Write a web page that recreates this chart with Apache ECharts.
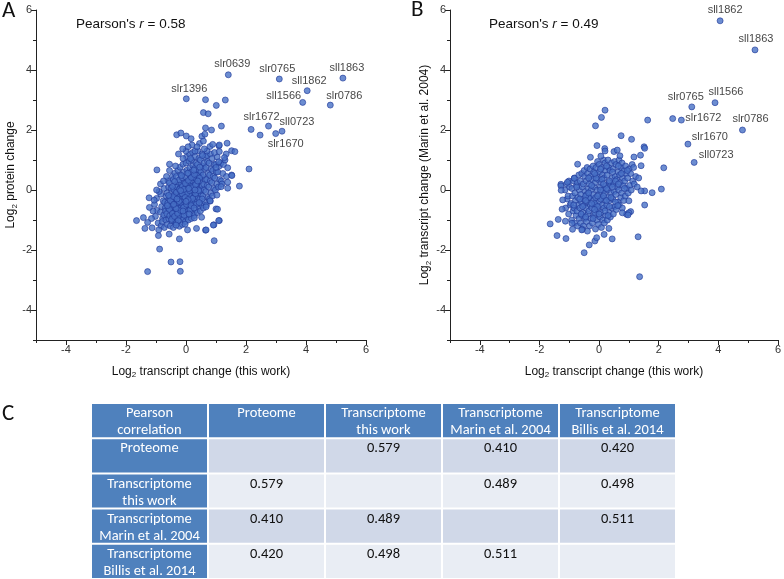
<!DOCTYPE html>
<html>
<head>
<meta charset="utf-8">
<script src="https://cdn.jsdelivr.net/npm/echarts@6/dist/echarts.min.js"></script>
<style>
html,body{margin:0;padding:0;background:#fff;}
#chart{width:784px;height:579px;}
</style>
</head>
<body>
<div id="chart"></div>
<script>
// ---------------- DATA ----------------
// Panel A: x = Log2 transcript change (this work), y = Log2 protein change
var pointsA = [
  // dense core
  [-1.02,-0.88],[-0.97,-0.68],[-1.05,-0.48],[-0.93,-1.10],[-0.98,-0.28],
  [-0.83,-1.20],[-0.78,-0.95],[-0.85,-0.74],[-0.81,-0.55],[-0.76,-0.36],[-0.84,-0.14],[-0.79,-1.05],
  [-0.72,-1.25],[-0.67,-1.00],[-0.74,-0.83],[-0.69,-0.60],[-0.71,-0.41],[-0.66,-0.20],[-0.73,0.05],[-0.68,-0.70],
  [-0.62,-1.15],[-0.57,-0.96],[-0.64,-0.79],[-0.59,-0.61],[-0.61,-0.44],[-0.56,-0.29],[-0.63,-0.10],[-0.58,0.10],[-0.60,0.31],
  [-0.52,-1.20],[-0.47,-1.02],[-0.54,-0.86],[-0.49,-0.69],[-0.51,-0.54],[-0.46,-0.41],[-0.53,-0.24],[-0.48,-0.09],[-0.50,0.06],[-0.55,0.24],[-0.45,0.46],
  [-0.42,-1.25],[-0.37,-1.06],[-0.44,-0.90],[-0.39,-0.74],[-0.41,-0.61],[-0.36,-0.45],[-0.43,-0.31],[-0.38,-0.14],[-0.40,0.01],[-0.35,0.16],[-0.42,0.35],[-0.37,0.56],
  [-0.32,-1.10],[-0.27,-0.94],[-0.34,-0.81],[-0.29,-0.65],[-0.31,-0.49],[-0.26,-0.36],[-0.33,-0.20],[-0.28,-0.04],[-0.30,0.10],[-0.25,0.26],[-0.32,0.45],[-0.27,0.66],
  [-0.22,-1.21],[-0.17,-1.00],[-0.24,-0.86],[-0.19,-0.69],[-0.21,-0.56],[-0.16,-0.40],[-0.23,-0.26],[-0.18,-0.09],[-0.20,0.06],[-0.15,0.21],[-0.22,0.34],[-0.17,0.51],[-0.20,0.76],
  [-0.12,-1.15],[-0.07,-0.95],[-0.14,-0.79],[-0.09,-0.66],[-0.11,-0.49],[-0.06,-0.35],[-0.13,-0.21],[-0.08,-0.04],[-0.10,0.10],[-0.05,0.25],[-0.12,0.41],[-0.07,0.60],[-0.10,0.86],
  [-0.02,-1.05],[0.03,-0.90],[-0.04,-0.74],[0.01,-0.61],[-0.01,-0.45],[0.04,-0.29],[-0.03,-0.16],[0.02,0.01],[0.00,0.15],[0.05,0.30],[-0.02,0.44],[0.03,0.66],[0.00,0.90],[0.02,1.10],
  [0.08,-1.00],[0.13,-0.81],[0.06,-0.64],[0.11,-0.51],[0.09,-0.34],[0.14,-0.20],[0.07,-0.06],[0.12,0.10],[0.10,0.26],[0.15,0.40],[0.08,0.55],[0.13,0.74],[0.10,0.96],[0.12,1.20],
  [0.18,-0.95],[0.23,-0.76],[0.16,-0.60],[0.21,-0.44],[0.19,-0.30],[0.24,-0.15],[0.17,0.01],[0.22,0.15],[0.20,0.31],[0.25,0.44],[0.18,0.60],[0.23,0.81],[0.20,1.00],[0.22,1.25],
  [0.28,-0.85],[0.33,-0.66],[0.26,-0.50],[0.31,-0.34],[0.29,-0.20],[0.34,-0.06],[0.27,0.10],[0.32,0.26],[0.30,0.40],[0.35,0.55],[0.28,0.71],[0.33,0.90],[0.30,1.11],
  [0.38,-0.75],[0.43,-0.55],[0.36,-0.41],[0.41,-0.25],[0.39,-0.10],[0.44,0.05],[0.37,0.21],[0.42,0.35],[0.40,0.50],[0.45,0.66],[0.38,0.85],[0.43,1.05],[0.40,1.30],
  [0.48,-0.70],[0.53,-0.50],[0.46,-0.31],[0.51,-0.15],[0.49,0.00],[0.54,0.15],[0.47,0.30],[0.52,0.45],[0.50,0.61],[0.55,0.80],[0.48,1.00],[0.53,1.20],
  [0.58,-0.60],[0.63,-0.40],[0.56,-0.20],[0.61,0.00],[0.59,0.20],[0.64,0.35],[0.57,0.50],[0.62,0.71],[0.60,0.90],[0.65,1.10],
  [0.68,-0.50],[0.73,-0.25],[0.66,-0.05],[0.71,0.15],[0.69,0.35],[0.74,0.55],[0.67,0.75],[0.72,0.95],[0.70,1.15],
  [0.78,-0.30],[0.83,-0.10],[0.76,0.10],[0.81,0.30],[0.79,0.50],[0.84,0.70],[0.77,0.90],[0.82,1.20],
  [0.88,-0.20],[0.93,0.05],[0.86,0.25],[0.91,0.45],[0.89,0.65],[0.94,0.85],[0.87,1.05],
  [0.98,0.00],[1.03,0.20],[0.96,0.40],[1.01,0.60],[0.99,0.85],[1.04,1.10],
  [1.08,0.10],[1.13,0.35],[1.06,0.60],[1.11,0.80],
  [1.18,0.30],[1.23,0.55],[1.16,0.90],
  // extra core fill
  [-0.15,-0.48],[0.05,-0.38],[-0.05,-0.55],[0.15,-0.25],[-0.25,-0.60],[0.25,0.05],[-0.35,-0.25],[0.35,0.20],
  [-0.10,-0.30],[0.10,-0.15],[-0.20,-0.20],[0.00,-0.05],[-0.30,-0.75],[0.20,-0.40],[-0.45,-0.55],[0.45,0.40],
  [-0.25,1.20],[0.00,1.30],[0.20,1.50],[0.30,1.30],[0.45,1.55],[0.70,1.30],[0.80,1.45],[0.95,1.25],
  [0.15,1.05],[-0.10,1.05],[0.55,1.15],[1.25,0.85],[1.00,0.75],[1.35,0.45],[1.20,0.20],[-0.85,0.20],
  [-0.90,-0.05],[-1.10,-0.70],[-1.15,-0.95],[-0.65,0.45],[-0.75,0.30],[-0.35,0.80],[-0.55,0.65],[1.30,1.00],
  [-0.55,-0.65],[-0.45,-0.78],[-0.35,-0.55],[-0.28,-0.42],[-0.18,-0.32],[-0.08,-0.22],[0.02,-0.12],[0.12,-0.02],[0.22,0.08],[0.32,0.18],
  [-0.52,-0.35],[-0.42,-0.22],[-0.32,-0.08],[-0.22,0.02],[-0.12,0.12],[-0.02,0.22],[0.08,0.32],[0.18,0.42],[0.28,0.52],
  [-0.48,-0.98],[-0.38,-0.88],[-0.28,-0.78],[-0.18,-0.68],[-0.08,-0.58],[0.02,-0.48],[0.12,-0.38],[0.22,-0.28],[0.32,-0.12],[0.42,-0.02],
  [-0.62,-0.52],[-0.58,-0.18],[-0.38,0.28],[-0.15,0.48],[0.06,0.56],[0.26,0.66],[0.46,0.76],
  [-0.26,-1.02],[-0.06,-0.84],[0.14,-0.66],[0.34,-0.48],[0.54,-0.30],[0.44,-0.42],
  [-0.13,-0.12],[-0.03,-0.25],[0.07,-0.32],[-0.23,-0.38],[-0.33,-0.62],[0.17,-0.52],[0.27,-0.60],[-0.41,-0.48],
  [-0.07,0.02],[0.09,0.05],[-0.18,-0.02],[0.00,-0.38],[-0.10,-0.70],[0.10,-0.80],[-0.30,-0.30],[0.30,0.00],[-0.45,0.12],[0.39,0.30],
  // outer points
  [0.65,3.01],[1.31,3.00],[1.01,2.82],[0.58,2.58],[0.74,2.54],[1.18,2.13],[0.65,2.07],[0.85,2.00],
  [-0.31,1.84],[-0.17,1.90],[0.01,1.80],[0.17,1.71],[0.53,1.79],[0.63,1.86],[0.89,1.52],[1.37,1.56],
  [1.10,1.47],[-0.11,1.37],[0.07,1.44],[0.58,1.63],[1.52,1.31],[1.63,1.28],[0.37,1.44],[0.61,1.37],
  [1.11,1.50],[1.34,1.20],[1.11,1.28],[-0.97,0.67],[-0.55,0.86],[2.10,0.70],[1.39,0.74],[1.52,0.50],
  [1.09,0.94],[1.28,1.08],[1.78,0.13],[1.39,0.06],[1.17,0.11],[1.39,0.26],[1.53,0.48],
  [-1.65,-1.02],[-1.42,-0.92],[-1.28,-1.08],[-1.37,-1.28],[-1.13,-1.26],[-0.91,-1.33],[-0.92,-1.52],
  [-0.88,-1.97],[-0.50,-2.40],[-0.20,-2.39],[-1.28,-2.72],[-0.19,-2.71],[-0.22,-1.63],[-0.56,-1.47],
  [0.05,-1.33],[0.35,-1.28],[0.65,-1.34],[0.94,-1.69],[0.93,-1.16],[1.11,-1.02],[1.00,-0.63],[0.81,-0.37],
  [1.03,-0.17],[0.52,-0.91],[-1.23,-0.26],[-1.22,-0.58],[-0.98,0.00],[-1.06,-0.34],[0.67,-0.56],[0.28,-0.93],
  [-0.03,-1.14],[-0.33,-1.17],[1.05,-0.64],[1.09,-1.02],[0.91,-1.17],[0.80,-0.36],[0.67,-1.33],
  [2.17,2.02],[2.47,1.83]
];
var labelNamesA = ["slr0639","slr0765","sll1863","sll1862","sll1566","slr0786","slr1396","slr1672","sll0723","slr1670"];
var labelXA     = [1.41, 3.11, 5.23, 4.04, 3.89, 4.81, 0.01, 2.75, 3.20, 2.99];
var labelYA     = [3.84, 3.70, 3.73, 3.31, 2.92, 2.83, 3.04, 2.13, 1.96, 1.88];

// Panel B: x = Log2 transcript change (this work), y = Log2 transcript change (Marin et al. 2004)
var pointsB = [
  [-1.12,-0.60],[-1.07,-0.30],[-1.14,0.00],[-1.09,0.20],
  [-1.02,-0.80],[-0.97,-0.50],[-1.04,-0.20],[-0.99,0.10],[-1.01,0.30],
  [-0.92,-1.00],[-0.87,-0.70],[-0.94,-0.45],[-0.89,-0.20],[-0.91,0.05],[-0.86,0.30],
  [-0.82,-1.10],[-0.77,-0.85],[-0.84,-0.60],[-0.79,-0.35],[-0.81,-0.10],[-0.76,0.15],[-0.83,0.40],
  [-0.72,-1.20],[-0.67,-0.95],[-0.74,-0.70],[-0.69,-0.50],[-0.71,-0.25],[-0.66,0.00],[-0.73,0.25],[-0.68,0.50],
  [-0.62,-1.10],[-0.57,-0.85],[-0.64,-0.60],[-0.59,-0.40],[-0.61,-0.15],[-0.56,0.10],[-0.63,0.30],[-0.58,0.55],
  [-0.52,-1.20],[-0.47,-0.95],[-0.54,-0.75],[-0.49,-0.50],[-0.51,-0.30],[-0.46,-0.05],[-0.53,0.20],[-0.48,0.45],[-0.50,0.65],
  [-0.42,-1.05],[-0.37,-0.80],[-0.44,-0.60],[-0.39,-0.40],[-0.41,-0.15],[-0.36,0.05],[-0.43,0.30],[-0.38,0.55],[-0.40,0.75],
  [-0.32,-1.20],[-0.27,-0.95],[-0.34,-0.70],[-0.29,-0.50],[-0.31,-0.25],[-0.26,0.00],[-0.33,0.20],[-0.28,0.45],[-0.30,0.70],
  [-0.22,-1.10],[-0.17,-0.85],[-0.24,-0.60],[-0.19,-0.35],[-0.21,-0.15],[-0.16,0.10],[-0.23,0.35],[-0.18,0.60],[-0.20,0.80],
  [-0.12,-1.30],[-0.07,-1.00],[-0.14,-0.75],[-0.09,-0.50],[-0.11,-0.25],[-0.06,0.00],[-0.13,0.25],[-0.08,0.50],[-0.10,0.75],[-0.05,0.95],
  [-0.02,-1.15],[0.03,-0.90],[-0.04,-0.65],[0.01,-0.40],[-0.01,-0.15],[0.04,0.10],[-0.03,0.35],[0.02,0.60],[0.00,0.85],
  [0.08,-1.25],[0.13,-1.00],[0.06,-0.75],[0.11,-0.50],[0.09,-0.25],[0.14,0.00],[0.07,0.25],[0.12,0.50],[0.10,0.75],[0.15,1.00],
  [0.18,-1.10],[0.23,-0.85],[0.16,-0.60],[0.21,-0.35],[0.19,-0.10],[0.24,0.15],[0.17,0.40],[0.22,0.65],[0.20,0.90],
  [0.28,-1.00],[0.33,-0.75],[0.26,-0.50],[0.31,-0.25],[0.29,0.00],[0.34,0.25],[0.27,0.50],[0.32,0.75],[0.30,1.00],
  [0.38,-0.90],[0.43,-0.60],[0.36,-0.35],[0.41,-0.10],[0.39,0.15],[0.44,0.40],[0.37,0.65],[0.42,0.90],
  [0.48,-0.80],[0.53,-0.55],[0.46,-0.30],[0.51,-0.05],[0.49,0.20],[0.54,0.45],[0.47,0.70],[0.52,0.95],
  [0.58,-0.65],[0.63,-0.40],[0.56,-0.15],[0.61,0.10],[0.59,0.35],[0.64,0.60],[0.57,0.85],
  [0.68,-0.50],[0.73,-0.25],[0.66,0.00],[0.71,0.25],[0.69,0.50],[0.74,0.75],[0.67,1.00],
  [0.78,-0.60],[0.83,-0.35],[0.76,-0.10],[0.81,0.15],[0.79,0.40],[0.84,0.65],[0.77,0.90],
  [0.88,-0.20],[0.93,0.05],[0.86,0.30],[0.91,0.55],[0.89,0.80],
  [0.98,-0.10],[1.03,0.15],[0.96,0.40],[1.01,0.70],
  [1.08,0.00],[1.13,0.30],[1.06,0.55],[1.11,0.85],
  [1.18,0.20],[1.23,0.45],[1.16,0.75],[1.28,0.10],[1.33,0.40],
  // extra core fill
  [-0.15,-0.45],[0.05,-0.30],[-0.05,-0.55],[0.15,-0.20],[0.25,0.05],[-0.35,-0.25],[0.35,0.30],[-0.25,0.15],
  [0.45,0.10],[-0.45,-0.20],[0.10,0.35],[-0.10,0.40],[0.55,0.30],[0.65,0.80],[-0.60,-0.80],[0.20,-0.70],
  [-0.55,-0.55],[-0.45,-0.35],[-0.35,-0.10],[-0.25,-0.45],[-0.15,-0.65],[-0.05,-0.20],[0.05,0.00],[0.15,0.20],[0.25,-0.35],[0.35,-0.55],
  [0.45,0.60],[0.55,-0.40],[-0.65,-0.30],[-0.75,0.10],[0.65,0.20],[0.75,0.55],[-0.35,0.40],[-0.15,0.55],[0.05,0.70],[0.25,0.80],
  [0.40,-0.25],[-0.20,-0.95],[0.00,-0.80],[0.30,-0.85],[-0.45,-0.90],[0.85,0.05],[0.95,0.65],[-0.85,-0.50],
  // outer points
  [1.63,2.33],[0.20,2.66],[0.08,2.42],[-0.12,2.14],[0.74,1.81],[1.09,1.69],[-0.07,1.48],[0.19,1.38],
  [1.51,1.44],[1.53,1.39],[-0.29,1.09],[2.47,2.38],[-0.72,0.86],[2.17,0.74],[1.41,0.81],[1.39,1.16],
  [1.17,1.10],[0.50,1.28],[0.61,1.33],[0.20,1.30],[0.06,1.13],[0.70,1.14],[-1.28,0.19],[-1.06,0.26],[-0.83,0.39],
  [2.09,0.03],[1.78,-0.09],[1.53,-0.03],[1.41,-0.03],[1.53,-0.50],[1.31,-1.56],[1.36,-2.89],
  [-1.64,-1.13],[-1.37,-0.98],[-1.41,-1.52],[-1.11,-1.62],[-1.13,-1.04],[-0.89,-1.31],[-0.50,-2.09],
  [-0.33,-1.83],[-0.14,-1.70],[-0.08,-1.59],[0.17,-1.48],[0.44,-1.63],[-0.39,-1.37],[-0.56,-1.31],
  [-1.24,-0.64],[-1.22,-0.33],[1.06,-0.72],[0.92,-0.81],[0.78,-0.76],[0.63,-0.52],[1.00,-0.36],[0.33,-1.28],
  [-1.28,0.14],[-1.27,-0.01],[-0.91,-1.11],[-0.58,-1.33],[1.00,-0.76],[0.97,-0.83]
];
var labelNamesB = ["sll1862","sll1863","slr0765","sll1566","slr1672","slr0786","slr1670","sll0723"];
var labelXB     = [4.06, 5.23, 3.11, 3.89, 2.76, 4.81, 2.98, 3.19];
var labelYB     = [5.64, 4.67, 2.77, 2.91, 2.33, 2.00, 1.53, 0.92];

var pearsonA = 0.58;
var pearsonB = 0.49;

var majorTicks = [-4, -2, 0, 2, 4, 6];
var minorTicks = [-5, -3, -1, 1, 3, 5];

// Panel C: correlation table
var tableHeader = ["Pearson\ncorrelation", "Proteome", "Transcriptome\nthis work", "Transcriptome\nMarin et al. 2004", "Transcriptome\nBillis et al. 2014"];
var tableRows   = ["Proteome", "Transcriptome\nthis work", "Transcriptome\nMarin et al. 2004", "Transcriptome\nBillis et al. 2014"];
var corrProteome   = [null, 0.579, 0.410, 0.420];
var corrThisWork   = [0.579, null, 0.489, 0.498];
var corrMarin      = [0.410, 0.489, null, 0.511];
var corrBillis     = [0.420, 0.498, 0.511, null];

// ---------------- STYLE / LAYOUT ----------------
var FONT = '"Liberation Sans", Arial, sans-serif';
var TFONT = 'Carlito, Lato, "Open Sans", sans-serif';
var AXIS_COLOR = '#222';
var DOT = { color: '#4770c6', borderColor: '#203898', borderWidth: 0.8 };

var labelOffsetA = {
  slr0639: [4, -11], slr0765: [-2, -10], sll1863: [4, -10], sll1862: [2, -10], sll1566: [-19, -6],
  slr0786: [14, -9], slr1396: [3, -10], slr1672: [-7, -9], sll0723: [15, -9], slr1670: [10, 10]
};
var labelOffsetB = {
  sll1862: [5, -11], sll1863: [1, -11], slr0765: [-6, -10], sll1566: [11, -11], slr1672: [22, -2],
  slr0786: [8, -11], slr1670: [22, -7], sll0723: [22, -7]
};

function labeledData(names, xs, ys, offsets) {
  return names.map(function (n, i) {
    return { name: n, value: [xs[i], ys[i]], label: { offset: offsets[n] } };
  });
}

var subRich = { s: { fontSize: 8, padding: [7, 0, 0, 0], fontFamily: FONT, color: '#111' } };

function valueAxis(gridIndex, name, nameGap, isY) {
  var main = {
    type: 'value', gridIndex: gridIndex, min: -5, max: 6,
    position: isY ? 'left' : 'bottom',
    name: name, nameLocation: 'middle', nameGap: nameGap,
    nameTextStyle: { fontFamily: FONT, fontSize: 12, color: '#111', rich: subRich },
    axisLine: { show: true, onZero: false, lineStyle: { color: AXIS_COLOR, width: 1 } },
    axisTick: { show: true, length: 5, customValues: majorTicks, lineStyle: { color: AXIS_COLOR } },
    axisLabel: { show: true, customValues: majorTicks, fontFamily: FONT, fontSize: 11, color: '#333', margin: 4 },
    splitLine: { show: false }
  };
  var minor = {
    type: 'value', gridIndex: gridIndex, min: -5, max: 6,
    position: isY ? 'left' : 'bottom',
    axisLine: { show: false, onZero: false },
    axisTick: { show: true, length: 3, customValues: minorTicks, lineStyle: { color: AXIS_COLOR } },
    axisLabel: { show: false },
    splitLine: { show: false }
  };
  return [main, minor];
}

var xA = valueAxis(0, 'Log{s|2} transcript change (this work)', 24, false);
var yA = valueAxis(0, 'Log{s|2} protein change', 16, true);
var xB = valueAxis(1, 'Log{s|2} transcript change (this work)', 24, false);
var yB = valueAxis(1, 'Log{s|2} transcript change (Marin et al. 2004)', 17, true);

// table cells
var corrMatrix = [corrProteome, corrThisWork, corrMarin, corrBillis];
var tableData = [];
tableHeader.forEach(function (h, c) { tableData.push([c, 0, h, 'head']); });
tableRows.forEach(function (r, i) {
  tableData.push([0, i + 1, r, 'head']);
  corrMatrix[i].forEach(function (v, j) {
    tableData.push([j + 1, i + 1, v == null ? '' : v.toFixed(3), (i % 2 === 0) ? 'odd' : 'even']);
  });
});
var cellFill = { head: '#4f81bd', odd: '#d0d8e8', even: '#e9edf4' };

var chart = echarts.init(document.getElementById('chart'), null, { renderer: 'canvas' });
var option = {
  animation: false,
  backgroundColor: '#fff',
  grid: [
    { left: 36, top: 10, width: 330, height: 330 },
    { left: 450, top: 10, width: 331, height: 330 },
    { left: 91, top: 403, width: 585, height: 176 }
  ],
  xAxis: [xA[0], xA[1], xB[0], xB[1],
    { type: 'category', gridIndex: 2, data: [0, 1, 2, 3, 4], show: false }],
  yAxis: [yA[0], yA[1], yB[0], yB[1],
    { type: 'category', gridIndex: 2, data: [0, 1, 2, 3, 4], inverse: true, show: false }],
  graphic: [
    { type: 'text', left: 2, top: 0, style: { text: 'A', font: '23px ' + TFONT, fill: '#111' } },
    { type: 'text', left: 411, top: -1, style: { text: 'B', font: '23px ' + TFONT, fill: '#111' } },
    { type: 'text', left: 2, top: 403, style: { text: 'C', font: '23px ' + TFONT, fill: '#111' } },
    { type: 'text', left: 76, top: 17, style: {
      text: "Pearson's {i|r} = " + pearsonA.toFixed(2), font: '13.5px ' + FONT, fill: '#111',
      rich: { i: { fontStyle: 'italic', fontSize: 13.5, fontFamily: FONT, fill: '#111' } } } },
    { type: 'text', left: 489, top: 17, style: {
      text: "Pearson's {i|r} = " + pearsonB.toFixed(2), font: '13.5px ' + FONT, fill: '#111',
      rich: { i: { fontStyle: 'italic', fontSize: 13.5, fontFamily: FONT, fill: '#111' } } } }
  ],
  series: [
    { type: 'scatter', xAxisIndex: 0, yAxisIndex: 0, data: pointsA, symbolSize: 6, itemStyle: DOT, z: 3 },
    { type: 'scatter', xAxisIndex: 0, yAxisIndex: 0, data: labeledData(labelNamesA, labelXA, labelYA, labelOffsetA),
      symbolSize: 6, itemStyle: DOT, z: 4,
      label: { show: true, position: 'inside', formatter: '{b}', fontFamily: FONT, fontSize: 11, color: '#111' } },
    { type: 'scatter', xAxisIndex: 2, yAxisIndex: 2, data: pointsB, symbolSize: 6, itemStyle: DOT, z: 3 },
    { type: 'scatter', xAxisIndex: 2, yAxisIndex: 2, data: labeledData(labelNamesB, labelXB, labelYB, labelOffsetB),
      symbolSize: 6, itemStyle: DOT, z: 4,
      label: { show: true, position: 'inside', formatter: '{b}', fontFamily: FONT, fontSize: 11, color: '#111' } },
    { type: 'custom', xAxisIndex: 4, yAxisIndex: 4, data: tableData, silent: true,
      renderItem: function (params, api) {
        var item = tableData[params.dataIndex];
        var c = api.coord([api.value(0), api.value(1)]);
        var s = api.size([1, 1]);
        var x0 = c[0] - s[0] / 2, y0 = c[1] - s[1] / 2;
        var kind = item[3];
        return { type: 'group', children: [
          { type: 'rect', shape: { x: x0 + 1, y: y0 + 1, width: s[0] - 2, height: s[1] - 2 },
            style: { fill: cellFill[kind] } },
          { type: 'text', style: { x: c[0], y: y0 + 2, text: item[2], align: 'center', verticalAlign: 'top',
              font: '14.5px ' + TFONT, lineHeight: 17, fill: kind === 'head' ? '#fff' : '#111' } }
        ] };
      } }
  ]
};
chart.setOption(option);
</script>
</body>
</html>
